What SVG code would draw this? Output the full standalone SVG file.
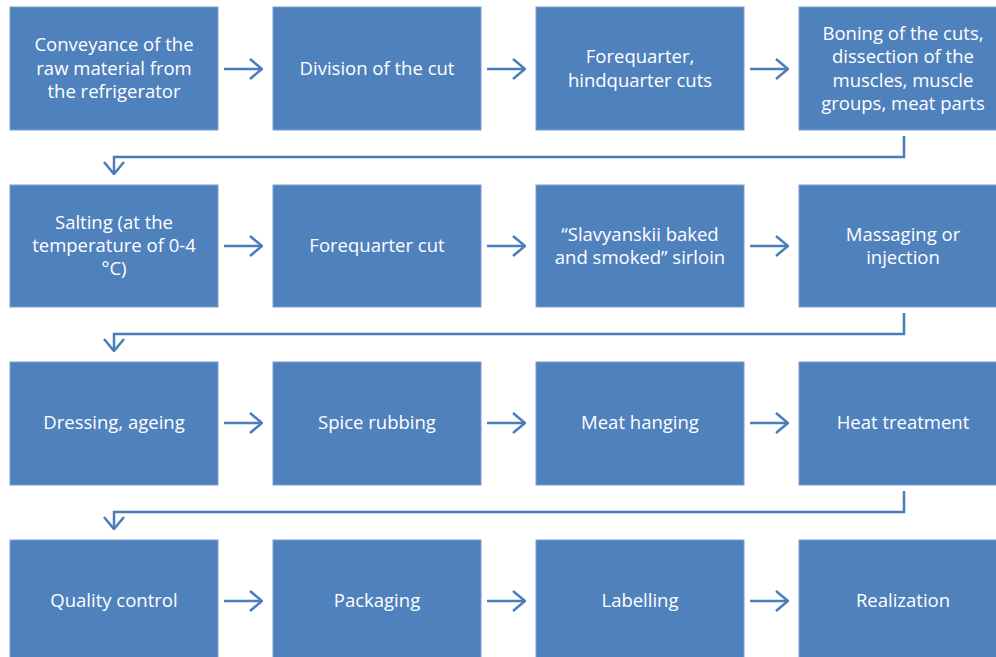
<svg xmlns="http://www.w3.org/2000/svg" width="996" height="657" viewBox="0 0 996 657">
<defs>
<style>
.box{fill:#4f81bd;stroke:#7a9fd0;stroke-width:1}
.t{fill:#ffffff;font-family:"Open Sans","Liberation Sans",sans-serif;font-size:18.5px;text-anchor:middle}
.c{fill:none;stroke:#4a7ebb;stroke-width:2.5}
</style>
<marker id="ah" viewBox="0 0 14 22" refX="13" refY="11" markerWidth="14" markerHeight="22" markerUnits="userSpaceOnUse" orient="auto">
<path d="M1,1 L13,11 L1,21" fill="none" stroke="#4a7ebb" stroke-width="2.5"/>
</marker>
</defs>
<rect width="996" height="657" fill="#ffffff"/>
<g id="connectors">
<line class="c" x1="224" y1="69" x2="262" y2="69" marker-end="url(#ah)"/>
<line class="c" x1="487" y1="69" x2="525" y2="69" marker-end="url(#ah)"/>
<line class="c" x1="750" y1="69" x2="788" y2="69" marker-end="url(#ah)"/>
<polyline class="c" points="904,136 904,157 114,157 114,174" marker-end="url(#ah)"/>
<line class="c" x1="224" y1="246" x2="262" y2="246" marker-end="url(#ah)"/>
<line class="c" x1="487" y1="246" x2="525" y2="246" marker-end="url(#ah)"/>
<line class="c" x1="750" y1="246" x2="788" y2="246" marker-end="url(#ah)"/>
<polyline class="c" points="904,313 904,334 114,334 114,351" marker-end="url(#ah)"/>
<line class="c" x1="224" y1="423" x2="262" y2="423" marker-end="url(#ah)"/>
<line class="c" x1="487" y1="423" x2="525" y2="423" marker-end="url(#ah)"/>
<line class="c" x1="750" y1="423" x2="788" y2="423" marker-end="url(#ah)"/>
<polyline class="c" points="904,491 904,512 114,512 114,529" marker-end="url(#ah)"/>
<line class="c" x1="224" y1="601" x2="262" y2="601" marker-end="url(#ah)"/>
<line class="c" x1="487" y1="601" x2="525" y2="601" marker-end="url(#ah)"/>
<line class="c" x1="750" y1="601" x2="788" y2="601" marker-end="url(#ah)"/>
</g>
<g id="n1"><rect class="box" x="10" y="7" width="208" height="123"/><text class="t" x="114"><tspan x="114" y="51">Conveyance of the</tspan><tspan x="114" y="75">raw material from</tspan><tspan x="114" y="98">the refrigerator</tspan></text></g>
<g id="n2"><rect class="box" x="273" y="7" width="208" height="123"/><text class="t" x="377" y="75">Division of the cut</text></g>
<g id="n3"><rect class="box" x="536" y="7" width="208" height="123"/><text class="t"><tspan x="640" y="63">Forequarter,</tspan><tspan x="640" y="87">hindquarter cuts</tspan></text></g>
<g id="n4"><rect class="box" x="799" y="7" width="208" height="123"/><text class="t"><tspan x="903" y="40">Boning of the cuts,</tspan><tspan x="903" y="63">dissection of the</tspan><tspan x="903" y="87">muscles, muscle</tspan><tspan x="903" y="110">groups, meat parts</tspan></text></g>
<g id="n5"><rect class="box" x="10" y="185" width="208" height="122"/><text class="t"><tspan x="114" y="229">Salting (at the</tspan><tspan x="114" y="252">temperature of 0-4</tspan><tspan x="114" y="275">°C)</tspan></text></g>
<g id="n6"><rect class="box" x="273" y="185" width="208" height="122"/><text class="t" x="377" y="252">Forequarter cut</text></g>
<g id="n7"><rect class="box" x="536" y="185" width="208" height="122"/><text class="t"><tspan x="640" y="241">“Slavyanskii baked</tspan><tspan x="640" y="264">and smoked” sirloin</tspan></text></g>
<g id="n8"><rect class="box" x="799" y="185" width="208" height="122"/><text class="t"><tspan x="903" y="241">Massaging or</tspan><tspan x="903" y="264">injection</tspan></text></g>
<g id="n9"><rect class="box" x="10" y="362" width="208" height="123"/><text class="t" x="114" y="429">Dressing, ageing</text></g>
<g id="n10"><rect class="box" x="273" y="362" width="208" height="123"/><text class="t" x="377" y="429">Spice rubbing</text></g>
<g id="n11"><rect class="box" x="536" y="362" width="208" height="123"/><text class="t" x="640" y="429">Meat hanging</text></g>
<g id="n12"><rect class="box" x="799" y="362" width="208" height="123"/><text class="t" x="903" y="429">Heat treatment</text></g>
<g id="n13"><rect class="box" x="10" y="540" width="208" height="123"/><text class="t" x="114" y="607">Quality control</text></g>
<g id="n14"><rect class="box" x="273" y="540" width="208" height="123"/><text class="t" x="377" y="607">Packaging</text></g>
<g id="n15"><rect class="box" x="536" y="540" width="208" height="123"/><text class="t" x="640" y="607">Labelling</text></g>
<g id="n16"><rect class="box" x="799" y="540" width="208" height="123"/><text class="t" x="903" y="607">Realization</text></g>
</svg>
